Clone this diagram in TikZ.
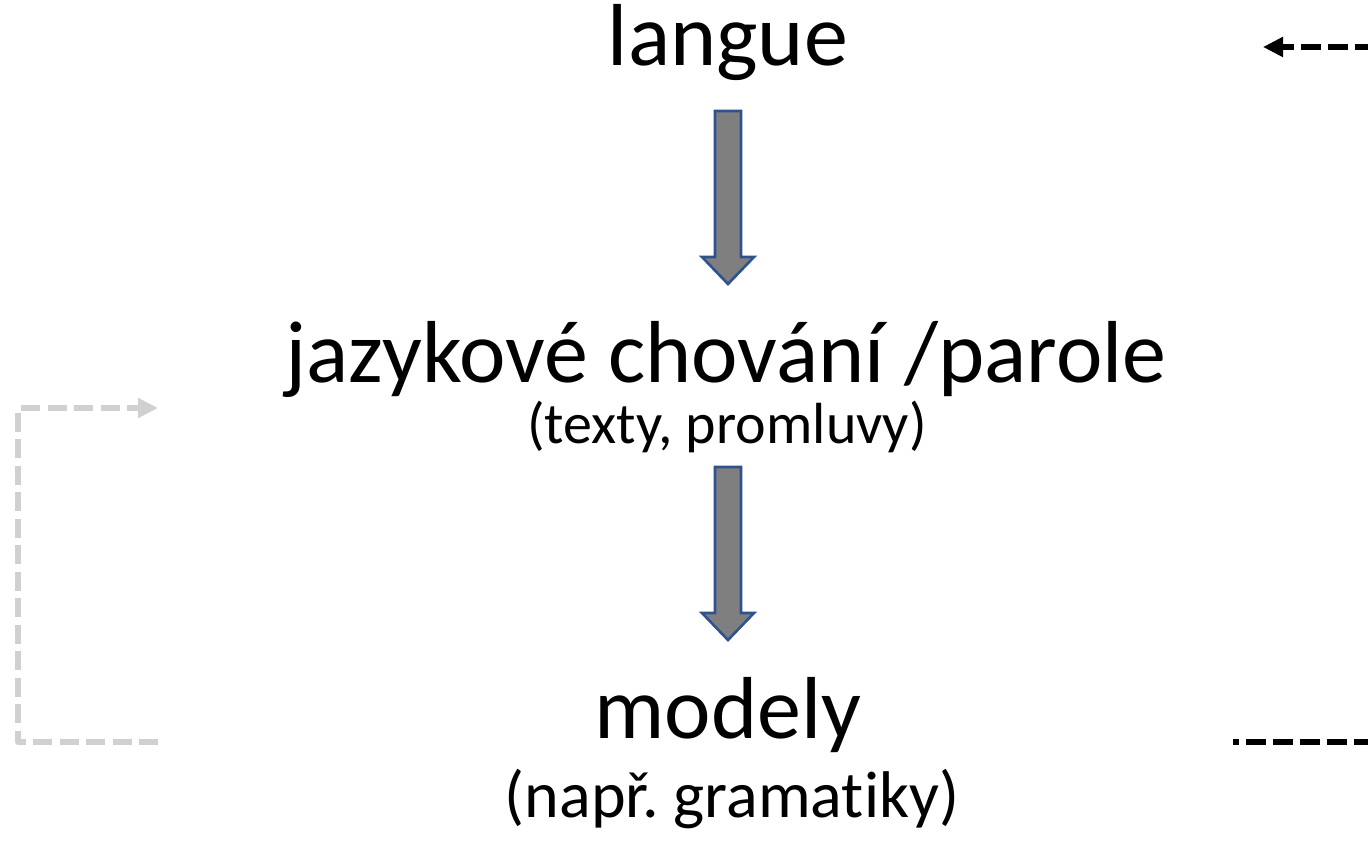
\documentclass[tikz,border=0pt]{standalone}
\usepackage{fontspec}
\setmainfont{Carlito}[Ligatures=NoCommon]
\frenchspacing
\usetikzlibrary{arrows.meta,calc}
\definecolor{arrfill}{HTML}{7F7F7F}
\definecolor{arrline}{HTML}{2F528F}
\definecolor{lgray}{HTML}{D0D0D0}
\tikzset{
  big/.style={inner sep=0pt, anchor=base, font=\fontsize{88}{92}\selectfont},
  mid/.style={inner sep=0pt, anchor=base, font=\fontsize{58}{62}\selectfont},
  sub/.style={inner sep=0pt, anchor=base, font=\fontsize{66}{70}\selectfont},
  blockarr/.style={fill=arrfill, draw=arrline, line width=2.6pt, line join=miter},
  graydash/.style={draw=lgray, line width=6pt, dash pattern=on 19pt off 7.5pt, line join=round},
  blackdash/.style={draw=black, line width=6pt, dash pattern=on 20pt off 7pt}
}
\begin{document}
\begin{tikzpicture}[x=1pt,y=-1pt]
\useasboundingbox (0,0) rectangle (1368,845);
\clip (0,0) rectangle (1368,845);
\fill[white] (0,0) rectangle (1368,845);

\node[big] (langue) at (728,66) {langue};
\node[big] (parole) at (726,382) {jazykové chování /parole};
\node[mid] (texty) at (727,443) {(texty, promluvy)};
\node[big] (modely) at (728,738) {modely};
\node[sub] (gram) at (732,817) {(např. gramatiky)};

% block arrows
\coordinate (a1s) at ($(langue.base)+(0,45)$);
\coordinate (a1e) at ($(parole.base)+(2,-98)$);
\coordinate (a2s) at ($(texty.base)+(1,24)$);
\coordinate (a2e) at ($(modely.base)+(0,-98)$);
\foreach \s/\e in {a1s/a1e, a2s/a2e}{
  \draw[blockarr] ($(\s)+(-13,0)$) -- ($(\s)+(13,0)$) -- ($(\e)+(13,-27)$)
     -- ($(\e)+(26,-27)$) -- (\e) -- ($(\e)+(-26,-27)$) -- ($(\e)+(-13,-27)$) -- cycle;
}

% left gray feedback connector
\coordinate (lb) at (158,742);
\coordinate (lt) at (158,408);
\draw[graydash, -{Triangle[length=20pt,width=19pt]}] (lb) -- (18,742) -- (18,408) -- (lt);

% right black dashed connectors (free ends beyond the edge)
\coordinate (rtout) at (1375,47);
\coordinate (rtin) at (1263,47);
\draw[blackdash, -{Triangle[length=20pt,width=19pt]}] (rtout) -- (rtin);
\coordinate (rbin) at (1233,742);
\coordinate (rbout) at (1380,742);
\draw[blackdash, dash phase=14pt] (rbin) -- (rbout);
\end{tikzpicture}
\end{document}
